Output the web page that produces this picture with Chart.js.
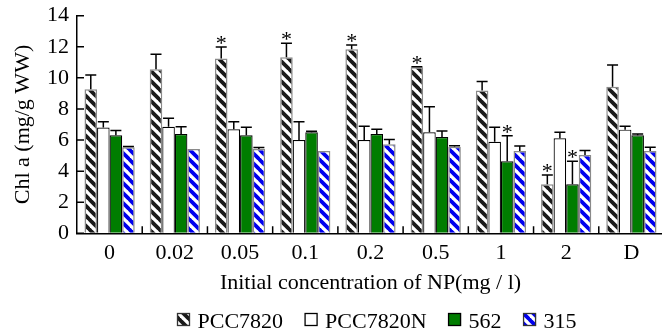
<!DOCTYPE html>
<html>
<head>
<meta charset="utf-8">
<script src="https://cdn.jsdelivr.net/npm/chart.js@4.4.0/dist/chart.umd.min.js"></script>
<style>
  html, body { margin: 0; padding: 0; background: #fff; overflow: hidden; }
</style>
</head>
<body>
<canvas id="chart" width="664" height="330"></canvas>
<script>
// data
const categories = ['0', '0.02', '0.05', '0.1', '0.2', '0.5', '1', '2', 'D'];

const pcc7820     = [9.27, 10.55, 11.24, 11.32, 11.84, 10.68, 9.18, 3.15, 9.43];
const pcc7820Err  = [0.92, 0.97, 0.75, 0.90, 0.28, 0.04, 0.58, 0.60, 1.40];
const pcc7820Star = [0, 0, 1, 1, 1, 1, 0, 1, 0];

const pcc7820N     = [6.80, 6.86, 6.69, 6.00, 6.00, 6.50, 5.89, 6.11, 6.67];
const pcc7820NErr  = [0.38, 0.54, 0.49, 1.18, 0.88, 1.65, 0.93, 0.39, 0.22];
const pcc7820NStar = [0, 0, 0, 0, 0, 0, 0, 0, 0];

const s562     = [6.31, 6.39, 6.31, 6.50, 6.39, 6.20, 4.63, 3.15, 6.31];
const s562Err  = [0.30, 0.47, 0.51, 0.06, 0.30, 0.38, 1.65, 1.48, 0.08];
const s562Star = [0, 0, 0, 0, 0, 0, 1, 1, 0];

const s315     = [5.53, 5.42, 5.42, 5.30, 5.73, 5.57, 5.30, 5.04, 5.30];
const s315Err  = [0.05, 0, 0.10, 0, 0.30, 0.06, 0.32, 0.28, 0.23];
const s315Star = [0, 0, 0, 0, 0, 0, 0, 0, 0];

const yTicks = [0, 2, 4, 6, 8, 10, 12, 14];

const FONT = '"Liberation Serif", "Times New Roman", serif';

// diagonal hatch fill
function stripes(color){
  const c = document.createElement('canvas')
  c.width = 10; c.height = 10
  const g = c.getContext('2d')
  g.fillStyle = '#fff'
  g.fillRect(0, 0, 10, 10)
  g.strokeStyle = color
  g.lineWidth = 3.8
  for (const k of [-10, 0, 10]) {
    g.beginPath()
    g.moveTo(k - 1, -1)
    g.lineTo(k + 11, 11)
    g.stroke()
  }
  return g.createPattern(c, 'repeat')
}
const blackHatch = stripes('#1a1a1a')
const blueHatch = stripes('#0000ee')

const extras = {
  id: 'extras',
  afterDatasetsDraw(chart){
    const { ctx, chartArea, scales: { x, y } } = chart
    ctx.save()
    ctx.strokeStyle = '#000'
    ctx.fillStyle = '#000'
    ctx.lineWidth = 1.5
    chart.data.datasets.forEach((ds, di) => {
      const meta = chart.getDatasetMeta(di)
      meta.data.forEach((bar, i) => {
        const e = ds.err[i]
        const top = y.getPixelForValue(ds.data[i] + e)
        if (e > 0) {
          ctx.beginPath()
          ctx.moveTo(bar.x, bar.y)
          ctx.lineTo(bar.x, top)
          ctx.moveTo(bar.x - 5.5, top)
          ctx.lineTo(bar.x + 5.5, top)
          ctx.stroke()
        }
        if (ds.star[i]) {
          ctx.font = '22px ' + FONT
          ctx.textAlign = 'center'
          ctx.textBaseline = 'alphabetic'
          ctx.fillText('*', bar.x, top + 3)
        }
      })
    })
    // inward y ticks
    ctx.beginPath()
    yTicks.forEach(v => {
      const py = y.getPixelForValue(v)
      ctx.moveTo(chartArea.left, py)
      ctx.lineTo(chartArea.left + 7, py)
    })
    // small upward ticks between groups
    for (let i = 1; i < categories.length; i++) {
      const px = (x.getPixelForValue(i - 1) + x.getPixelForValue(i)) / 2
      ctx.moveTo(px, chartArea.bottom)
      ctx.lineTo(px, chartArea.bottom - 7)
    }
    ctx.stroke()
    ctx.restore()
  },
  afterDraw(chart){
    // legend row
    const ctx = chart.ctx
    ctx.save()
    ctx.font = '22px ' + FONT
    ctx.textBaseline = 'alphabetic'
    ctx.textAlign = 'left'
    let lx = 177
    const top = 313
    chart.data.datasets.forEach(ds => {
      ctx.fillStyle = ds.backgroundColor
      ctx.fillRect(lx, top, 13, 13)
      ctx.strokeStyle = ds.legendBorder
      ctx.lineWidth = 1.3
      ctx.strokeRect(lx + 0.5, top + 0.5, 12, 12)
      ctx.fillStyle = '#000'
      ctx.fillText(ds.label, lx + 20.5, top + 15)
      lx += 20.5 + ctx.measureText(ds.label).width + 21.5
    })
    ctx.restore()
  }
}

function draw(){
new Chart(document.getElementById('chart'), {
  type: 'bar',
  data: {
    labels: categories,
    datasets: [
      { label: 'PCC7820', data: pcc7820, err: pcc7820Err, star: pcc7820Star,
        backgroundColor: blackHatch, borderColor: '#8a8a8a', borderWidth: 1.5, legendBorder: '#333' },
      { label: 'PCC7820N', data: pcc7820N, err: pcc7820NErr, star: pcc7820NStar,
        backgroundColor: '#ffffff', borderColor: '#000', borderWidth: 1.2, legendBorder: '#000' },
      { label: '562', data: s562, err: s562Err, star: s562Star,
        backgroundColor: '#007d00', borderColor: '#000', borderWidth: 1.2, legendBorder: '#000' },
      { label: '315', data: s315, err: s315Err, star: s315Star,
        backgroundColor: blueHatch, borderColor: '#8a8a8a', borderWidth: 1.5, legendBorder: '#333' }
    ]
  },
  options: {
    responsive: false,
    animation: false,
    layout: { padding: { top: 15.7, right: 0, bottom: 0, left: 0 } },
    datasets: { bar: { categoryPercentage: 0.77, barPercentage: 1 } },
    plugins: { legend: { display: false }, tooltip: { enabled: false } },
    scales: {
      x: {
        grid: { display: true, drawOnChartArea: false, drawTicks: false },
        border: { display: true, color: '#000', width: 1.5 },
        ticks: { color: '#000', font: { family: FONT, size: 22 }, padding: 6.5, maxRotation: 0 },
        title: { display: true, text: 'Initial concentration of NP(mg / l)', color: '#000',
                 font: { family: FONT, size: 22 }, padding: { top: 0, bottom: 33.8 } },
        afterFit(scale){ scale.height = 96.7 }
      },
      y: {
        min: 0, max: 14,
        grid: { display: true, drawOnChartArea: false, drawTicks: false },
        border: { display: true, color: '#000', width: 1.5 },
        ticks: { color: '#000', font: { family: FONT, size: 22 }, padding: 8, stepSize: 2 },
        title: { display: true, text: 'Chl a (mg/g WW)', color: '#000',
                 font: { family: FONT, size: 22 }, padding: { top: 9.8, bottom: 0 } },
        afterFit(scale){
          scale.width = 77
          scale.paddingTop = 0
          scale.paddingBottom = 0
        }
      }
    }
  },
  plugins: [extras]
})
}
document.fonts.load('22px "Liberation Serif"').then(draw, draw)
</script>
</body>
</html>
